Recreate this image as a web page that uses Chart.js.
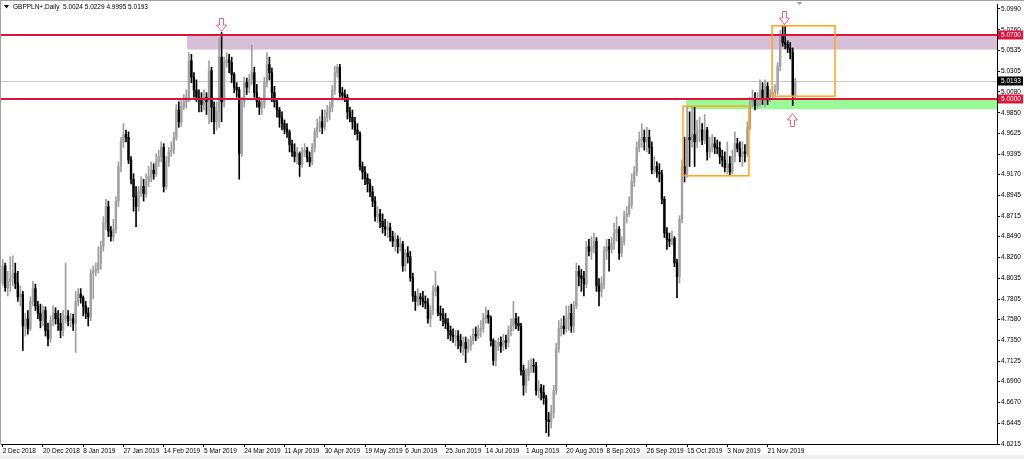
<!DOCTYPE html>
<html><head><meta charset="utf-8">
<script src="https://cdn.jsdelivr.net/npm/chart.js@4.4.0/dist/chart.umd.min.js"></script>
<style>html,body{margin:0;padding:0;background:#fff;overflow:hidden}canvas{display:block}</style>
</head><body>
<canvas id="c" width="1024" height="459"></canvas>
<script>
const symbolName = 'GBPPLN+,Daily';
const tickLabels = ['2 Dec 2018','20 Dec 2018','8 Jan 2019','27 Jan 2019','14 Feb 2019','5 Mar 2019','24 Mar 2019','11 Apr 2019','30 Apr 2019','19 May 2019','6 Jun 2019','25 Jun 2019','14 Jul 2019','1 Aug 2019','20 Aug 2019','8 Sep 2019','26 Sep 2019','15 Oct 2019','3 Nov 2019','21 Nov 2019'];
const tickBars = [0,16,32,48,64,80,96,112,128,144,160,176,192,208,224,240,256,272,288,304];
const yTicks = [5.0990,5.0760,5.0535,5.0305,5.0080,4.9850,4.9625,4.9395,4.9170,4.8945,4.8715,4.8490,4.8260,4.8035,4.7805,4.7580,4.7350,4.7125,4.6900,4.6670,4.6445,4.6215];

const open = [
4.798,4.817,4.793,4.800,4.803,4.809,4.798,4.783,4.786,4.751,
4.759,4.748,4.778,4.792,4.773,4.765,4.757,4.768,4.746,4.737,
4.757,4.765,4.759,4.754,4.746,4.759,4.762,4.757,4.759,4.754,
4.778,4.786,4.782,4.773,4.765,4.761,4.809,4.811,4.813,4.820,
4.838,4.864,4.882,4.855,4.849,4.857,4.888,4.926,4.953,4.961,
4.958,4.933,4.912,4.893,4.882,4.898,4.904,4.896,4.909,4.915,
4.922,4.918,4.931,4.937,4.947,4.904,4.931,4.942,4.944,4.958,
4.988,4.975,4.992,4.997,5.002,5.042,5.024,5.010,5.002,4.999,
4.994,5.002,4.997,5.031,4.991,4.975,4.986,5.046,4.997,5.040,
5.043,5.040,5.027,5.013,5.010,4.940,4.997,5.018,5.013,5.021,
5.029,5.007,4.997,4.991,4.994,5.018,5.038,5.029,5.007,4.997,
4.988,4.980,4.973,4.967,4.964,4.950,4.942,4.937,4.940,4.928,
4.942,4.944,4.936,4.931,4.947,4.964,4.969,4.975,4.969,4.980,
4.986,4.991,5.010,5.029,5.035,5.007,5.004,5.002,4.986,4.980,
4.975,4.966,4.962,4.926,4.920,4.913,4.907,4.898,4.888,4.871,
4.874,4.866,4.860,4.857,4.859,4.849,4.844,4.846,4.838,4.841,
4.817,4.831,4.827,4.804,4.784,4.778,4.783,4.781,4.778,4.776,
4.759,4.768,4.789,4.793,4.765,4.763,4.759,4.754,4.746,4.741,
4.739,4.740,4.735,4.729,4.733,4.726,4.729,4.735,4.742,4.740,
4.746,4.748,4.759,4.763,4.760,4.735,4.713,4.729,4.733,4.729,
4.735,4.733,4.746,4.751,4.759,4.754,4.751,4.702,4.686,4.697,
4.704,4.708,4.707,4.680,4.683,4.678,4.672,4.648,4.646,4.656,
4.680,4.726,4.748,4.751,4.748,4.759,4.765,4.751,4.773,4.811,
4.806,4.803,4.797,4.838,4.833,4.837,4.844,4.795,4.789,4.798,
4.833,4.838,4.835,4.842,4.853,4.857,4.831,4.844,4.871,4.874,
4.884,4.909,4.920,4.947,4.955,4.958,4.953,4.958,4.947,4.922,
4.926,4.920,4.918,4.890,4.853,4.846,4.844,4.847,4.820,4.805,
4.868,4.926,4.918,4.958,4.955,4.961,4.953,4.964,4.966,4.955,
4.966,4.942,4.947,4.951,4.947,4.946,4.937,4.933,4.925,4.929,
4.920,4.937,4.951,4.946,4.937,4.942,4.940,4.969,4.997,4.999,
4.993,4.997,5.010,5.001,5.014,4.999,5.004,5.007,5.010,5.036,
5.071,5.062,5.060,5.056,5.051,5.0024];

const high = [
4.824,4.820,4.811,4.827,4.828,4.820,4.811,4.795,4.789,4.765,
4.768,4.783,4.800,4.797,4.778,4.775,4.773,4.772,4.754,4.762,
4.773,4.771,4.768,4.765,4.768,4.820,4.768,4.765,4.764,4.789,
4.792,4.792,4.784,4.778,4.771,4.813,4.817,4.820,4.838,4.844,
4.871,4.890,4.888,4.860,4.868,4.893,4.931,4.958,4.973,4.966,
4.964,4.937,4.918,4.904,4.904,4.915,4.912,4.918,4.926,4.931,
4.929,4.940,4.944,4.953,4.951,4.937,4.947,4.953,4.964,4.994,
4.997,4.999,5.005,5.010,5.051,5.049,5.029,5.021,5.010,5.007,
5.010,5.007,5.042,5.035,4.997,4.997,5.067,5.073,5.046,5.051,
5.049,5.046,5.029,5.018,5.013,5.002,5.024,5.023,5.027,5.059,
5.035,5.016,5.002,4.999,5.024,5.051,5.046,5.034,5.014,4.999,
4.991,4.986,4.977,4.973,4.966,4.955,4.951,4.947,4.942,4.947,
4.951,4.947,4.942,4.951,4.968,4.978,4.981,4.988,4.988,4.993,
4.997,5.015,5.036,5.038,5.038,5.013,5.010,5.005,4.991,4.988,
4.980,4.973,4.964,4.931,4.926,4.918,4.912,4.904,4.893,4.882,
4.879,4.874,4.868,4.866,4.864,4.855,4.853,4.850,4.848,4.844,
4.835,4.838,4.833,4.809,4.789,4.792,4.787,4.789,4.784,4.781,
4.773,4.795,4.811,4.795,4.773,4.770,4.765,4.759,4.751,4.748,
4.746,4.746,4.742,4.739,4.739,4.737,4.740,4.748,4.750,4.752,
4.757,4.765,4.772,4.768,4.762,4.737,4.735,4.738,4.739,4.742,
4.741,4.751,4.759,4.778,4.765,4.761,4.754,4.708,4.704,4.713,
4.715,4.715,4.711,4.691,4.687,4.686,4.675,4.656,4.664,4.686,
4.732,4.757,4.759,4.762,4.773,4.773,4.775,4.778,4.820,4.817,
4.813,4.811,4.844,4.846,4.849,4.853,4.848,4.803,4.805,4.838,
4.846,4.846,4.848,4.864,4.871,4.860,4.849,4.877,4.882,4.893,
4.918,4.926,4.953,4.964,4.973,4.966,4.969,4.966,4.953,4.937,
4.931,4.929,4.922,4.893,4.859,4.853,4.855,4.849,4.824,4.872,
4.933,4.958,4.992,4.986,4.991,4.992,4.977,4.980,4.973,4.983,
4.969,4.958,4.961,4.958,4.955,4.953,4.944,4.942,4.953,4.937,
4.944,4.964,4.957,4.953,4.953,4.950,4.975,5.002,5.010,5.007,
5.007,5.021,5.018,5.021,5.018,5.010,5.014,5.016,5.040,5.075,
5.080,5.081,5.064,5.062,5.056,5.0229];

const low = [
4.795,4.789,4.784,4.789,4.795,4.792,4.778,4.773,4.724,4.740,
4.742,4.746,4.773,4.768,4.759,4.749,4.751,4.740,4.729,4.733,
4.751,4.753,4.746,4.738,4.740,4.754,4.751,4.750,4.746,4.722,
4.773,4.776,4.762,4.759,4.751,4.757,4.781,4.806,4.809,4.813,
4.833,4.857,4.849,4.844,4.844,4.853,4.882,4.920,4.947,4.953,
4.929,4.907,4.877,4.860,4.877,4.893,4.888,4.892,4.904,4.909,
4.912,4.915,4.926,4.931,4.898,4.901,4.926,4.937,4.940,4.955,
4.969,4.970,4.988,4.990,4.997,5.018,5.002,4.997,4.986,4.986,
4.988,4.983,4.973,4.975,4.962,4.966,4.969,4.975,4.991,5.035,
5.029,5.018,5.007,5.002,4.912,4.937,4.991,5.005,5.007,5.016,
5.002,4.991,4.983,4.983,4.990,5.013,5.021,4.997,4.991,4.980,
4.969,4.966,4.962,4.958,4.942,4.937,4.931,4.929,4.915,4.925,
4.937,4.931,4.926,4.928,4.942,4.958,4.964,4.962,4.966,4.975,
4.977,4.986,5.005,5.024,5.002,4.999,4.997,4.978,4.975,4.967,
4.961,4.955,4.922,4.912,4.906,4.898,4.893,4.882,4.866,4.864,
4.859,4.853,4.850,4.848,4.844,4.838,4.833,4.831,4.833,4.811,
4.811,4.820,4.800,4.778,4.768,4.773,4.774,4.772,4.770,4.754,
4.750,4.763,4.784,4.762,4.757,4.751,4.748,4.737,4.735,4.733,
4.729,4.726,4.722,4.719,4.711,4.722,4.724,4.731,4.735,4.737,
4.739,4.744,4.754,4.754,4.729,4.708,4.707,4.724,4.722,4.724,
4.726,4.728,4.740,4.746,4.748,4.746,4.697,4.675,4.678,4.691,
4.700,4.700,4.675,4.672,4.670,4.665,4.634,4.630,4.639,4.650,
4.676,4.722,4.740,4.742,4.744,4.746,4.744,4.744,4.770,4.795,
4.789,4.784,4.793,4.828,4.824,4.831,4.789,4.773,4.783,4.792,
4.824,4.811,4.831,4.835,4.844,4.824,4.827,4.840,4.864,4.871,
4.880,4.904,4.916,4.942,4.947,4.944,4.942,4.940,4.918,4.918,
4.914,4.909,4.885,4.848,4.835,4.838,4.840,4.816,4.782,4.798,
4.864,4.909,4.914,4.926,4.947,4.926,4.947,4.953,4.950,4.951,
4.933,4.936,4.942,4.940,4.940,4.929,4.926,4.920,4.918,4.917,
4.918,4.931,4.942,4.931,4.926,4.931,4.937,4.966,4.991,4.988,
4.990,4.992,4.994,4.992,4.994,4.997,5.001,5.002,5.005,5.031,
5.058,5.055,5.051,5.044,4.993,4.9995];

const close = [
4.817,4.793,4.800,4.803,4.809,4.798,4.783,4.786,4.751,4.759,
4.748,4.778,4.792,4.773,4.765,4.757,4.768,4.746,4.737,4.757,
4.765,4.759,4.754,4.746,4.759,4.762,4.757,4.759,4.754,4.778,
4.786,4.782,4.773,4.765,4.761,4.809,4.811,4.813,4.820,4.838,
4.864,4.882,4.855,4.849,4.857,4.888,4.926,4.953,4.961,4.958,
4.933,4.912,4.893,4.882,4.898,4.904,4.896,4.909,4.915,4.922,
4.918,4.931,4.937,4.947,4.904,4.931,4.942,4.944,4.958,4.988,
4.975,4.992,4.997,5.002,5.042,5.024,5.010,5.002,4.999,4.994,
5.002,4.997,5.031,4.991,4.975,4.986,5.046,4.997,5.040,5.043,
5.040,5.027,5.013,5.010,4.940,4.997,5.018,5.013,5.021,5.029,
5.007,4.997,4.991,4.994,5.018,5.038,5.029,5.007,4.997,4.988,
4.980,4.973,4.967,4.964,4.950,4.942,4.937,4.940,4.928,4.942,
4.944,4.936,4.931,4.947,4.964,4.969,4.975,4.969,4.980,4.986,
4.991,5.010,5.029,5.035,5.007,5.004,5.002,4.986,4.980,4.975,
4.966,4.962,4.926,4.920,4.913,4.907,4.898,4.888,4.871,4.874,
4.866,4.860,4.857,4.859,4.849,4.844,4.846,4.838,4.841,4.817,
4.831,4.827,4.804,4.784,4.778,4.783,4.781,4.778,4.776,4.759,
4.768,4.789,4.793,4.765,4.763,4.759,4.754,4.746,4.741,4.739,
4.740,4.735,4.729,4.733,4.726,4.729,4.735,4.742,4.740,4.746,
4.748,4.759,4.763,4.760,4.735,4.713,4.729,4.733,4.729,4.735,
4.733,4.746,4.751,4.759,4.754,4.751,4.702,4.686,4.697,4.704,
4.708,4.707,4.680,4.683,4.678,4.672,4.648,4.646,4.656,4.680,
4.726,4.748,4.751,4.748,4.759,4.765,4.751,4.773,4.811,4.806,
4.803,4.797,4.838,4.833,4.837,4.844,4.795,4.789,4.798,4.833,
4.838,4.835,4.842,4.853,4.857,4.831,4.844,4.871,4.874,4.884,
4.909,4.920,4.947,4.955,4.958,4.953,4.958,4.947,4.922,4.926,
4.920,4.918,4.890,4.853,4.846,4.844,4.847,4.820,4.805,4.868,
4.926,4.918,4.958,4.955,4.961,4.953,4.964,4.966,4.955,4.966,
4.942,4.947,4.951,4.947,4.946,4.937,4.933,4.925,4.929,4.920,
4.937,4.951,4.946,4.937,4.942,4.940,4.969,4.997,4.999,4.993,
4.997,5.010,5.001,5.014,4.999,5.004,5.007,5.010,5.036,5.071,
5.062,5.060,5.056,5.051,5.004,5.0193];

// annotations (data coordinates: bar index, price)
const levelLines = [5.0700, 5.0000];
const bidPrice = 5.0193;
const zones = [
  {fromBar: 73.3, top: 5.0700, bottom: 5.0543, color: '#d8bfd8'},
  {fromBar: 271.6, top: 5.0000, bottom: 4.9889, color: '#98fb98'}
];
const boxes = [
  {from: 270.4, to: 296.6, top: 4.9921, bottom: 4.9158},
  {from: 305.8, to: 330.8, top: 5.0804, bottom: 5.0031}
];
const arrows = [
  {bar: 86.8, tip: 5.0750, dir: 'down'},
  {bar: 310.5, tip: 5.0826, dir: 'down'},
  {bar: 313.7, tip: 4.9845, dir: 'up'}
];

const BULL = '#a0a0a0', BEAR = '#000000';
const n = close.length;
const colors = close.map((c, i) => c >= open[i] ? BULL : BEAR);
const wickData = close.map((c, i) => ({x: i, y: [low[i], high[i]]}));
const bodyData = close.map((c, i) => ({x: i, y: [open[i], c]}));

const FONT = 'Liberation Sans';
const RED = '#dc143c';

function arrowPath(ctx, cx, tipY, dir) {
  const s = dir === 'down' ? 1 : -1;
  const mid = tipY - s * 6.5, top = tipY - s * 13;
  ctx.beginPath();
  ctx.moveTo(cx - 2, top); ctx.lineTo(cx + 2, top); ctx.lineTo(cx + 2, mid);
  ctx.lineTo(cx + 5, mid); ctx.lineTo(cx, tipY); ctx.lineTo(cx - 5, mid);
  ctx.lineTo(cx - 2, mid); ctx.closePath();
}

const annot = {
  id: 'annot',
  beforeDraw(chart) {
    const ctx = chart.ctx;
    ctx.save();
    ctx.fillStyle = '#fff'; ctx.fillRect(0, 0, chart.width, chart.height);
    ctx.fillStyle = '#f0f0f0'; ctx.fillRect(0, 455, chart.width, 4);
    ctx.restore();
  },
  beforeDatasetsDraw(chart) {
    const {ctx, chartArea: a, scales: {x, y}} = chart;
    ctx.save();
    zones.forEach(z => {
      const x0 = x.getPixelForValue(z.fromBar);
      const y0 = y.getPixelForValue(z.top), y1 = y.getPixelForValue(z.bottom);
      ctx.fillStyle = z.color;
      ctx.fillRect(x0, y0, a.right - x0, y1 - y0);
    });
    const yb = Math.round(y.getPixelForValue(bidPrice)) + 0.5;
    ctx.strokeStyle = '#c8c8c8'; ctx.lineWidth = 1;
    ctx.beginPath(); ctx.moveTo(a.left, yb); ctx.lineTo(a.right, yb); ctx.stroke();
    ctx.restore();
  },
  afterDatasetsDraw(chart) {
    const {ctx, chartArea: a, scales: {x, y}} = chart;
    ctx.save();
    levelLines.forEach(v => {
      const yy = Math.round(y.getPixelForValue(v));
      ctx.fillStyle = RED; ctx.fillRect(a.left, yy - 1, a.right - a.left, 2);
    });
    ctx.strokeStyle = '#ffa726'; ctx.lineWidth = 1.6;
    boxes.forEach(b => {
      const x0 = x.getPixelForValue(b.from), x1 = x.getPixelForValue(b.to);
      const y0 = y.getPixelForValue(b.top), y1 = y.getPixelForValue(b.bottom);
      ctx.strokeRect(x0, y0, x1 - x0, y1 - y0);
    });
    ctx.strokeStyle = '#f0607f'; ctx.lineWidth = 1; ctx.fillStyle = '#fff';
    arrows.forEach(ar => {
      const cx = Math.round(x.getPixelForValue(ar.bar)) + 0.5;
      const ty = Math.round(y.getPixelForValue(ar.tip)) + 0.5;
      arrowPath(ctx, cx, ty, ar.dir);
      ctx.fill(); ctx.stroke();
    });
    ctx.strokeStyle = '#a0a0a0'; ctx.lineWidth = 1;
    ctx.beginPath(); ctx.moveTo(0.5, 0); ctx.lineTo(0.5, a.bottom); ctx.stroke();
    ctx.beginPath(); ctx.moveTo(0, 0.5); ctx.lineTo(chart.width, 0.5); ctx.stroke();
    const sx = x.getPixelForValue(n + 0.7);
    ctx.fillStyle = '#a0a0a0';
    ctx.beginPath(); ctx.moveTo(sx - 3, 2); ctx.lineTo(sx + 3, 2); ctx.lineTo(sx, 5); ctx.closePath(); ctx.fill();
    ctx.fillStyle = '#000';
    ctx.beginPath(); ctx.moveTo(4, 5); ctx.lineTo(9, 5); ctx.lineTo(6.5, 8.5); ctx.closePath(); ctx.fill();
    ctx.font = '6.5px "' + FONT + '"'; ctx.textBaseline = 'middle'; ctx.textAlign = 'left';
    const L = n - 1;
    ctx.fillText(symbolName + '  ' + open[L].toFixed(4) + ' ' + high[L].toFixed(4) + ' ' + low[L].toFixed(4) + ' ' + close[L].toFixed(4), 13, 7.5);
    ctx.restore();
  },
  afterDraw(chart) {
    const {ctx, chartArea: a, scales: {y}} = chart;
    ctx.save();
    ctx.font = '6.5px "' + FONT + '"'; ctx.textBaseline = 'middle'; ctx.textAlign = 'left';
    const tags = [[levelLines[0], RED], [bidPrice, '#000'], [levelLines[1], RED]];
    tags.forEach(([v, col]) => {
      const yy = Math.round(y.getPixelForValue(v));
      ctx.fillStyle = col; ctx.fillRect(a.right + 1, yy - 4.5, 25, 9);
      ctx.fillStyle = '#fff'; ctx.fillText(v.toFixed(4), a.right + 4, yy + 0.5);
    });
    ctx.restore();
  }
};

new Chart(document.getElementById('c'), {
  type: 'bar',
  data: {
    datasets: [
      {data: wickData, backgroundColor: colors, barThickness: 1, grouped: false, order: 2},
      {data: bodyData, backgroundColor: colors, barThickness: 1.7, minBarLength: 1, grouped: false, order: 1}
    ]
  },
  options: {
    responsive: false, devicePixelRatio: 1, animation: false,
    layout: {padding: {top: 2, left: 1, right: 0, bottom: 0}},
    plugins: {legend: {display: false}, tooltip: {enabled: false}, title: {display: false}},
    scales: {
      x: {
        type: 'linear', min: -0.676, max: 395.19, offset: false,
        afterFit: s => { s.height = 15; },
        afterBuildTicks: s => { s.ticks = tickBars.map(v => ({value: v})); },
        grid: {drawOnChartArea: false, drawTicks: true, tickLength: 3, color: '#000', offset: false},
        border: {color: '#000'},
        ticks: {autoSkip: false, maxRotation: 0, align: 'start', padding: 0, color: '#000',
          font: {family: FONT, size: 6.5},
          callback: v => tickLabels[tickBars.indexOf(v)] || ''}
      },
      y: {
        position: 'right', min: 4.6215, max: 5.1033,
        afterFit: s => { s.width = 27; },
        afterBuildTicks: s => { s.ticks = yTicks.map(v => ({value: v})); },
        grid: {drawOnChartArea: false, drawTicks: true, tickLength: 3, color: '#000'},
        border: {color: '#000'},
        ticks: {padding: 1, color: '#000', font: {family: FONT, size: 6.5}, callback: v => v.toFixed(4)}
      }
    }
  },
  plugins: [annot]
});
</script>
</body></html>
